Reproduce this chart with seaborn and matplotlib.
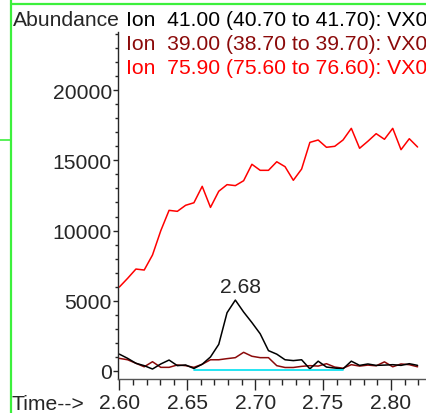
import numpy as np
import pandas as pd
import matplotlib
matplotlib.use('Agg')
import matplotlib.pyplot as plt
from matplotlib.lines import Line2D
from matplotlib.ticker import MultipleLocator, FormatStrFormatter
import seaborn as sns

# scan times (min)
times = [2.6000, 2.6061, 2.6122, 2.6183, 2.6244, 2.6305, 2.6366, 2.6427, 2.6488,
         2.6549, 2.6610, 2.6671, 2.6732, 2.6793, 2.6854, 2.6915, 2.6976, 2.7037,
         2.7098, 2.7159, 2.7220, 2.7281, 2.7342, 2.7403, 2.7464, 2.7525, 2.7586,
         2.7647, 2.7708, 2.7769, 2.7830, 2.7891, 2.7952, 2.8013, 2.8074, 2.8135,
         2.8196]

# ion traces (abundance)
ion41 = [1200, 900, 550, 380, 140, 500, 780, 380, 430, 180, 480, 1000, 1900, 4150,
         5050, 4200, 3450, 2650, 1450, 1200, 800, 740, 800, 150, 700, 280, 210,
         150, 700, 400, 500, 400, 420, 450, 400, 520, 400]
ion39 = [900, 800, 550, 300, 660, 260, 260, 430, 380, 260, 480, 800, 800, 880,
         950, 1330, 1050, 950, 950, 380, 250, 250, 330, 380, 350, 520, 280,
         200, 450, 350, 420, 370, 650, 300, 500, 450, 300]
ion75 = [5980, 6600, 7260, 7190, 8260, 9990, 11440, 11370, 11800, 11980, 13150,
         11650, 12800, 13270, 13200, 13550, 14720, 14290, 14290, 14900, 14550,
         13580, 14380, 16280, 16450, 15930, 16000, 16450, 17280, 15860, 16360,
         16900, 16500, 17280, 15760, 16540, 15950]

labels = ['Ion  41.00 (40.70 to 41.70): VX0',
          'Ion  39.00 (38.70 to 39.70): VX0',
          'Ion  75.90 (75.60 to 76.60): VX0']
colors = ['black', '#8b0a0a', '#ff0000']

# integration baseline under the 2.68 peak
base_t = [2.6549, 2.7647]
base_v = [80, 80]
peak_label = '2.68'

W, H = 426, 414

sns.set_style('ticks')
plt.rcParams['font.family'] = ['Liberation Sans', 'DejaVu Sans']
fs = 15.2

fig = plt.figure(figsize=(W / 100, H / 100), dpi=100)
ax = fig.add_axes([118 / W, (H - 380) / H, (W - 118) / W, 347 / H])

df = pd.DataFrame({'t': times * 3,
                   'v': ion75 + ion39 + ion41,
                   'ion': [labels[2]] * len(times) + [labels[1]] * len(times) + [labels[0]] * len(times)})
for lab, col in zip([labels[2], labels[1], labels[0]], [colors[2], colors[1], colors[0]]):
    sns.lineplot(data=df[df['ion'] == lab], x='t', y='v', color=col, lw=1.1, ax=ax,
                 legend=False, estimator=None, sort=False)
sns.lineplot(x=base_t, y=base_v, color='#00e0f0', lw=1.2, ax=ax, legend=False)

ipk = int(np.argmax(ion41))
ax.annotate(peak_label, (times[ipk], ion41[ipk]), xytext=(4, 3), textcoords='offset points',
            ha='center', va='bottom', fontsize=fs)

ax.set_xlim(2.599, 2.8258)
ax.set_ylim(-570, 24140)
ax.set_xlabel('')
ax.set_ylabel('')
sns.despine(ax=ax, top=True, right=True)
ax.spines['left'].set_linewidth(1.0)
ax.spines['bottom'].set_linewidth(1.0)
ax.spines['bottom'].set_color('#555555')

ax.xaxis.set_major_locator(MultipleLocator(0.05))
ax.xaxis.set_minor_locator(MultipleLocator(0.01))
ax.xaxis.set_major_formatter(FormatStrFormatter('%.2f'))
ax.yaxis.set_major_locator(MultipleLocator(5000))
ax.yaxis.set_minor_locator(MultipleLocator(1000))
ax.tick_params(axis='x', which='major', length=8, width=1, pad=2, labelsize=fs)
ax.tick_params(axis='x', which='minor', length=4.5, width=1)
ax.tick_params(axis='y', which='major', length=3.5, width=1, pad=1, labelsize=fs)
ax.tick_params(axis='y', which='minor', length=2, width=1)

# header texts
fig.text(12.5 / W, 1 - 25.5 / H, 'Abundance', fontsize=fs, va='baseline', ha='left')
for i, (lab, col) in enumerate(zip(labels, colors)):
    fig.text(126 / W, 1 - (25.5 + 24.5 * i) / H, lab, fontsize=fs, color=col,
             va='baseline', ha='left')
fig.text(12 / W, 1 - 410 / H, 'Time-->', fontsize=fs, va='baseline', ha='left')

# green frame fragments of the screenshot
green = '#3cf03c'
fig.add_artist(Line2D([10.7 / W, 10.7 / W], [0, 1], transform=fig.transFigure, color=green, lw=1.6))
fig.add_artist(Line2D([10.7 / W, 1], [1 - 5 / H, 1 - 5 / H], transform=fig.transFigure, color=green, lw=1.6))
fig.add_artist(Line2D([0, 10.7 / W], [1 - 141 / H, 1 - 141 / H], transform=fig.transFigure, color=green, lw=1.2))

fig.savefig('out.png', dpi=100)
